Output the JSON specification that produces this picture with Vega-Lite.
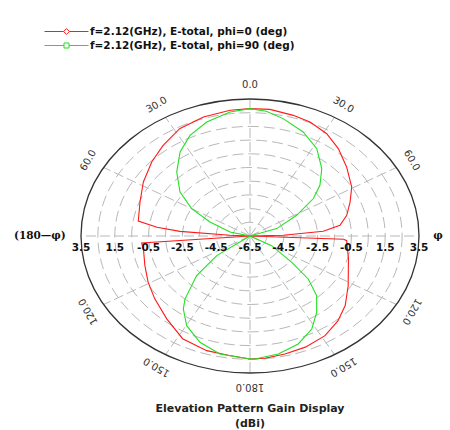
{
  "$schema": "https://vega.github.io/schema/vega-lite/v6.json",
  "width": 338,
  "height": 274,
  "autosize": "none",
  "padding": {"left": 81, "top": 99, "right": 31, "bottom": 57},
  "background": "white",
  "config": {"view": {"stroke": null}},
  "title": {
    "text": ["Elevation Pattern Gain Display", "(dBi)"],
    "orient": "bottom",
    "anchor": "middle",
    "font": "DejaVu Sans",
    "fontSize": 11,
    "fontWeight": "bold",
    "color": "#222222",
    "lineHeight": 15,
    "offset": 11
  },
  "datasets": {
    "rings": [{"r": 1}, {"r": 2}, {"r": 3}, {"r": 4}, {"r": 5}, {"r": 6}, {"r": 7}, {"r": 8}, {"r": 9}],
    "outer": [{"r": 10}],
    "spokes": [{"a": 0}, {"a": 30}, {"a": 60}, {"a": 90}, {"a": 120}, {"a": 150}, {"a": 180}, {"a": 210}, {"a": 240}, {"a": 270}, {"a": 300}, {"a": 330}],
    "anglelabels": [
      {"a": 0, "t": "0.0"}, {"a": 30, "t": "30.0"}, {"a": 60, "t": "60.0"},
      {"a": 120, "t": "120.0"}, {"a": 150, "t": "150.0"}, {"a": 180, "t": "180.0"},
      {"a": 210, "t": "150.0"}, {"a": 240, "t": "120.0"}, {"a": 300, "t": "60.0"}, {"a": 330, "t": "30.0"}
    ],
    "gainlabels": [
      {"a": 270, "g": 3.5}, {"a": 270, "g": 1.5}, {"a": 270, "g": -0.5}, {"a": 270, "g": -2.5}, {"a": 270, "g": -4.5},
      {"a": 90, "g": -6.5},
      {"a": 90, "g": -4.5}, {"a": 90, "g": -2.5}, {"a": 90, "g": -0.5}, {"a": 90, "g": 1.5}, {"a": 90, "g": 3.5}
    ],
    "pattern": [
      {"trace": "f=2.12(GHz), E-total, phi=0 (deg)", "theta": -180, "g": 2.48},
      {"trace": "f=2.12(GHz), E-total, phi=0 (deg)", "theta": -172, "g": 2.31},
      {"trace": "f=2.12(GHz), E-total, phi=0 (deg)", "theta": -163, "g": 2.25},
      {"trace": "f=2.12(GHz), E-total, phi=0 (deg)", "theta": -152, "g": 1.99},
      {"trace": "f=2.12(GHz), E-total, phi=0 (deg)", "theta": -141, "g": 1.31},
      {"trace": "f=2.12(GHz), E-total, phi=0 (deg)", "theta": -129, "g": 0.76},
      {"trace": "f=2.12(GHz), E-total, phi=0 (deg)", "theta": -119, "g": 0.40},
      {"trace": "f=2.12(GHz), E-total, phi=0 (deg)", "theta": -109, "g": 0.08},
      {"trace": "f=2.12(GHz), E-total, phi=0 (deg)", "theta": -99, "g": -0.12},
      {"trace": "f=2.12(GHz), E-total, phi=0 (deg)", "theta": -94.5, "g": -0.07},
      {"trace": "f=2.12(GHz), E-total, phi=0 (deg)", "theta": -90, "g": -6.5},
      {"trace": "f=2.12(GHz), E-total, phi=0 (deg)", "theta": -87.6, "g": -5.32},
      {"trace": "f=2.12(GHz), E-total, phi=0 (deg)", "theta": -85.3, "g": -2.34},
      {"trace": "f=2.12(GHz), E-total, phi=0 (deg)", "theta": -83.4, "g": -0.96},
      {"trace": "f=2.12(GHz), E-total, phi=0 (deg)", "theta": -80.6, "g": 0.2},
      {"trace": "f=2.12(GHz), E-total, phi=0 (deg)", "theta": -69, "g": 0.47},
      {"trace": "f=2.12(GHz), E-total, phi=0 (deg)", "theta": -58, "g": 0.94},
      {"trace": "f=2.12(GHz), E-total, phi=0 (deg)", "theta": -47, "g": 1.44},
      {"trace": "f=2.12(GHz), E-total, phi=0 (deg)", "theta": -38, "g": 1.87},
      {"trace": "f=2.12(GHz), E-total, phi=0 (deg)", "theta": -28, "g": 2.37},
      {"trace": "f=2.12(GHz), E-total, phi=0 (deg)", "theta": -17.6, "g": 2.62},
      {"trace": "f=2.12(GHz), E-total, phi=0 (deg)", "theta": -7.3, "g": 2.75},
      {"trace": "f=2.12(GHz), E-total, phi=0 (deg)", "theta": 0, "g": 2.8},
      {"trace": "f=2.12(GHz), E-total, phi=0 (deg)", "theta": 7.3, "g": 2.82},
      {"trace": "f=2.12(GHz), E-total, phi=0 (deg)", "theta": 16.2, "g": 2.67},
      {"trace": "f=2.12(GHz), E-total, phi=0 (deg)", "theta": 23.1, "g": 2.55},
      {"trace": "f=2.12(GHz), E-total, phi=0 (deg)", "theta": 31.3, "g": 2.24},
      {"trace": "f=2.12(GHz), E-total, phi=0 (deg)", "theta": 39.3, "g": 1.75},
      {"trace": "f=2.12(GHz), E-total, phi=0 (deg)", "theta": 48.6, "g": 1.12},
      {"trace": "f=2.12(GHz), E-total, phi=0 (deg)", "theta": 59.3, "g": 0.5},
      {"trace": "f=2.12(GHz), E-total, phi=0 (deg)", "theta": 67.3, "g": -0.08},
      {"trace": "f=2.12(GHz), E-total, phi=0 (deg)", "theta": 75.2, "g": -0.58},
      {"trace": "f=2.12(GHz), E-total, phi=0 (deg)", "theta": 81.7, "g": -1.12},
      {"trace": "f=2.12(GHz), E-total, phi=0 (deg)", "theta": 85.5, "g": -2.15},
      {"trace": "f=2.12(GHz), E-total, phi=0 (deg)", "theta": 88.5, "g": -4.53},
      {"trace": "f=2.12(GHz), E-total, phi=0 (deg)", "theta": 90, "g": -6.5},
      {"trace": "f=2.12(GHz), E-total, phi=0 (deg)", "theta": 92.4, "g": -0.95},
      {"trace": "f=2.12(GHz), E-total, phi=0 (deg)", "theta": 93.4, "g": -0.77},
      {"trace": "f=2.12(GHz), E-total, phi=0 (deg)", "theta": 106, "g": -0.44},
      {"trace": "f=2.12(GHz), E-total, phi=0 (deg)", "theta": 122, "g": 0.35},
      {"trace": "f=2.12(GHz), E-total, phi=0 (deg)", "theta": 132, "g": 1.08},
      {"trace": "f=2.12(GHz), E-total, phi=0 (deg)", "theta": 140, "g": 1.59},
      {"trace": "f=2.12(GHz), E-total, phi=0 (deg)", "theta": 148.6, "g": 2.02},
      {"trace": "f=2.12(GHz), E-total, phi=0 (deg)", "theta": 158, "g": 2.25},
      {"trace": "f=2.12(GHz), E-total, phi=0 (deg)", "theta": 166.5, "g": 2.36},
      {"trace": "f=2.12(GHz), E-total, phi=0 (deg)", "theta": 174.3, "g": 2.47},
      {"trace": "f=2.12(GHz), E-total, phi=0 (deg)", "theta": 180, "g": 2.48},
      {"trace": "f=2.12(GHz), E-total, phi=90 (deg)", "theta": -180, "g": 2.48},
      {"trace": "f=2.12(GHz), E-total, phi=90 (deg)", "theta": -168.3, "g": 2.29},
      {"trace": "f=2.12(GHz), E-total, phi=90 (deg)", "theta": -159.1, "g": 1.8},
      {"trace": "f=2.12(GHz), E-total, phi=90 (deg)", "theta": -150.2, "g": 1.04},
      {"trace": "f=2.12(GHz), E-total, phi=90 (deg)", "theta": -143.5, "g": 0.13},
      {"trace": "f=2.12(GHz), E-total, phi=90 (deg)", "theta": -140.1, "g": -0.5},
      {"trace": "f=2.12(GHz), E-total, phi=90 (deg)", "theta": -132.5, "g": -2.22},
      {"trace": "f=2.12(GHz), E-total, phi=90 (deg)", "theta": -126, "g": -4.07},
      {"trace": "f=2.12(GHz), E-total, phi=90 (deg)", "theta": -116, "g": -6.5},
      {"trace": "f=2.12(GHz), E-total, phi=90 (deg)", "theta": -90, "g": -6.5},
      {"trace": "f=2.12(GHz), E-total, phi=90 (deg)", "theta": -80, "g": -6.5},
      {"trace": "f=2.12(GHz), E-total, phi=90 (deg)", "theta": -76.2, "g": -5.28},
      {"trace": "f=2.12(GHz), E-total, phi=90 (deg)", "theta": -66.7, "g": -3.92},
      {"trace": "f=2.12(GHz), E-total, phi=90 (deg)", "theta": -59.9, "g": -2.51},
      {"trace": "f=2.12(GHz), E-total, phi=90 (deg)", "theta": -52.2, "g": -1.26},
      {"trace": "f=2.12(GHz), E-total, phi=90 (deg)", "theta": -42.9, "g": -0.13},
      {"trace": "f=2.12(GHz), E-total, phi=90 (deg)", "theta": -34, "g": 0.9},
      {"trace": "f=2.12(GHz), E-total, phi=90 (deg)", "theta": -25.8, "g": 1.66},
      {"trace": "f=2.12(GHz), E-total, phi=90 (deg)", "theta": -17.1, "g": 2.21},
      {"trace": "f=2.12(GHz), E-total, phi=90 (deg)", "theta": -7.4, "g": 2.63},
      {"trace": "f=2.12(GHz), E-total, phi=90 (deg)", "theta": 0, "g": 2.8},
      {"trace": "f=2.12(GHz), E-total, phi=90 (deg)", "theta": 6, "g": 2.66},
      {"trace": "f=2.12(GHz), E-total, phi=90 (deg)", "theta": 12.9, "g": 2.29},
      {"trace": "f=2.12(GHz), E-total, phi=90 (deg)", "theta": 22.5, "g": 1.72},
      {"trace": "f=2.12(GHz), E-total, phi=90 (deg)", "theta": 31.8, "g": 1.0},
      {"trace": "f=2.12(GHz), E-total, phi=90 (deg)", "theta": 40.8, "g": 0.0},
      {"trace": "f=2.12(GHz), E-total, phi=90 (deg)", "theta": 48.2, "g": -0.95},
      {"trace": "f=2.12(GHz), E-total, phi=90 (deg)", "theta": 53.9, "g": -1.86},
      {"trace": "f=2.12(GHz), E-total, phi=90 (deg)", "theta": 61.3, "g": -3.35},
      {"trace": "f=2.12(GHz), E-total, phi=90 (deg)", "theta": 71.1, "g": -4.83},
      {"trace": "f=2.12(GHz), E-total, phi=90 (deg)", "theta": 77, "g": -6.5},
      {"trace": "f=2.12(GHz), E-total, phi=90 (deg)", "theta": 90, "g": -6.5},
      {"trace": "f=2.12(GHz), E-total, phi=90 (deg)", "theta": 110, "g": -6.5},
      {"trace": "f=2.12(GHz), E-total, phi=90 (deg)", "theta": 118.7, "g": -5.04},
      {"trace": "f=2.12(GHz), E-total, phi=90 (deg)", "theta": 127.9, "g": -3.37},
      {"trace": "f=2.12(GHz), E-total, phi=90 (deg)", "theta": 132.3, "g": -1.84},
      {"trace": "f=2.12(GHz), E-total, phi=90 (deg)", "theta": 137.8, "g": -0.63},
      {"trace": "f=2.12(GHz), E-total, phi=90 (deg)", "theta": 144.7, "g": 0.33},
      {"trace": "f=2.12(GHz), E-total, phi=90 (deg)", "theta": 151.7, "g": 1.21},
      {"trace": "f=2.12(GHz), E-total, phi=90 (deg)", "theta": 160.1, "g": 1.88},
      {"trace": "f=2.12(GHz), E-total, phi=90 (deg)", "theta": 169, "g": 2.27},
      {"trace": "f=2.12(GHz), E-total, phi=90 (deg)", "theta": 178.1, "g": 2.48},
      {"trace": "f=2.12(GHz), E-total, phi=90 (deg)", "theta": 180, "g": 2.48}
    ]
  },
  "layer": [
    {
      "data": {"name": "rings"},
      "transform": [{"calculate": "0", "as": "c"}],
      "mark": {
        "type": "point",
        "shape": "M1,0C1,0.4477 0.5523,0.8107 0,0.8107C-0.5523,0.8107 -1,0.4477 -1,0C-1,-0.4477 -0.5523,-0.8107 0,-0.8107C0.5523,-0.8107 1,-0.4477 1,0Z",
        "filled": false,
        "stroke": "#b8b8b8",
        "strokeWidth": 1,
        "strokeDash": [11, 5],
        "opacity": 1
      },
      "encoding": {
        "x": {
          "field": "c",
          "type": "quantitative",
          "scale": {"domain": [-10, 10], "nice": false, "zero": false},
          "axis": null
        },
        "y": {
          "field": "c",
          "type": "quantitative",
          "scale": {"domain": [-10, 10], "nice": false, "zero": false},
          "axis": null
        },
        "size": {
          "field": "r",
          "type": "quantitative",
          "scale": {"type": "pow", "exponent": 2, "domain": [0, 10], "range": [0, 114244]},
          "legend": null
        }
      }
    },
    {
      "data": {"name": "spokes"},
      "transform": [
        {"calculate": "0", "as": "c"},
        {"calculate": "10 * sin(datum.a * PI / 180)", "as": "sx"},
        {"calculate": "10 * cos(datum.a * PI / 180)", "as": "sy"}
      ],
      "mark": {"type": "rule", "stroke": "#b8b8b8", "strokeWidth": 1, "strokeDash": [10, 4]},
      "encoding": {
        "x": {"field": "c", "type": "quantitative", "axis": null},
        "y": {"field": "c", "type": "quantitative", "axis": null},
        "x2": {"field": "sx"},
        "y2": {"field": "sy"}
      }
    },
    {
      "data": {"name": "outer"},
      "transform": [{"calculate": "0", "as": "c"}],
      "mark": {
        "type": "point",
        "shape": "M1,0C1,0.4477 0.5523,0.8107 0,0.8107C-0.5523,0.8107 -1,0.4477 -1,0C-1,-0.4477 -0.5523,-0.8107 0,-0.8107C0.5523,-0.8107 1,-0.4477 1,0Z",
        "filled": false,
        "stroke": "#333333",
        "strokeWidth": 1.3,
        "opacity": 1
      },
      "encoding": {
        "x": {"field": "c", "type": "quantitative", "axis": null},
        "y": {"field": "c", "type": "quantitative", "axis": null},
        "size": {
          "field": "r",
          "type": "quantitative",
          "scale": {"type": "pow", "exponent": 2, "domain": [0, 10], "range": [0, 114244]},
          "legend": null
        }
      }
    },
    {
      "data": {"name": "pattern"},
      "transform": [
        {"calculate": "max(0, datum.g + 6.5) * sin(datum.theta * PI / 180)", "as": "px"},
        {"calculate": "max(0, datum.g + 6.5) * cos(datum.theta * PI / 180)", "as": "py"}
      ],
      "mark": {"type": "line", "strokeWidth": 1.1, "interpolate": "linear"},
      "encoding": {
        "x": {"field": "px", "type": "quantitative", "axis": null},
        "y": {"field": "py", "type": "quantitative", "axis": null},
        "order": {"field": "theta", "type": "quantitative"},
        "color": {
          "field": "trace",
          "type": "nominal",
          "scale": {
            "domain": ["f=2.12(GHz), E-total, phi=0 (deg)", "f=2.12(GHz), E-total, phi=90 (deg)"],
            "range": ["#ff1a1a", "#22e022"]
          },
          "legend": {
            "orient": "none",
            "legendX": -20,
            "legendY": -73,
            "padding": 0,
            "title": null,
            "labelFont": "DejaVu Sans",
            "labelFontSize": 10.5,
            "labelFontWeight": "bold",
            "labelColor": "#111111",
            "labelLimit": 400,
            "labelOffset": 18,
            "symbolSize": 100,
            "symbolStrokeWidth": 1,
            "symbolType": "M-4.4,0L4.4,0",
            "rowPadding": 3,
            "encode": {
              "symbols": {
                "update": {
                  "stroke": {"scale": "color", "field": "value"},
                  "fill": {"value": "transparent"},
                  "shape": {"signal": "datum.value == 'f=2.12(GHz), E-total, phi=0 (deg)' ? 'M-4.4,0L-0.58,0M0.58,0L4.4,0M0,-0.58L0.58,0L0,0.58L-0.58,0Z' : 'M-4.4,0L-0.5,0M0.5,0L4.4,0M-0.5,-0.5L0.5,-0.5L0.5,0.5L-0.5,0.5Z'"}
                }
              }
            }
          }
        }
      }
    },
    {
      "data": {"name": "gainlabels"},
      "transform": [
        {"calculate": "(datum.g + 6.5) * sin(datum.a * PI / 180)", "as": "lx"},
        {"calculate": "(datum.g + 6.5) * cos(datum.a * PI / 180)", "as": "ly"}
      ],
      "mark": {"type": "text", "font": "DejaVu Sans", "fontSize": 10.5, "fontWeight": "bold", "color": "#111111", "align": "center", "baseline": "top", "dy": 7},
      "encoding": {
        "x": {"field": "lx", "type": "quantitative", "axis": null},
        "y": {"field": "ly", "type": "quantitative", "axis": null},
        "text": {"field": "g", "type": "nominal"}
      }
    },
    {
      "data": {"name": "anglelabels"},
      "transform": [
        {"calculate": "11.05 * sin(datum.a * PI / 180)", "as": "lx"},
        {"calculate": "11.05 * cos(datum.a * PI / 180)", "as": "ly"}
      ],
      "mark": {"type": "text", "font": "DejaVu Sans", "fontSize": 10, "color": "#333333", "align": "center", "baseline": "middle"},
      "encoding": {
        "x": {"field": "lx", "type": "quantitative", "axis": null},
        "y": {"field": "ly", "type": "quantitative", "axis": null},
        "text": {"field": "t"},
        "angle": {"field": "a", "type": "quantitative", "scale": {"domain": [0, 360], "range": [0, 360]}, "legend": null}
      }
    },
    {
      "data": {"values": [{"a": 270, "t": "(180—φ)"}]},
      "transform": [
        {"calculate": "10.9 * sin(datum.a * PI / 180)", "as": "lx"},
        {"calculate": "0", "as": "ly"}
      ],
      "mark": {"type": "text", "font": "DejaVu Serif", "fontSize": 10.5, "fontWeight": "bold", "color": "#111111", "align": "right", "baseline": "middle"},
      "encoding": {
        "x": {"field": "lx", "type": "quantitative", "axis": null},
        "y": {"field": "ly", "type": "quantitative", "axis": null},
        "text": {"field": "t"}
      }
    },
    {
      "data": {"values": [{"a": 90, "t": "φ"}]},
      "transform": [
        {"calculate": "10.85 * sin(datum.a * PI / 180)", "as": "lx"},
        {"calculate": "0", "as": "ly"}
      ],
      "mark": {"type": "text", "font": "DejaVu Serif", "fontSize": 10.5, "fontWeight": "bold", "color": "#111111", "align": "left", "baseline": "middle"},
      "encoding": {
        "x": {"field": "lx", "type": "quantitative", "axis": null},
        "y": {"field": "ly", "type": "quantitative", "axis": null},
        "text": {"field": "t"}
      }
    }
  ]
}
